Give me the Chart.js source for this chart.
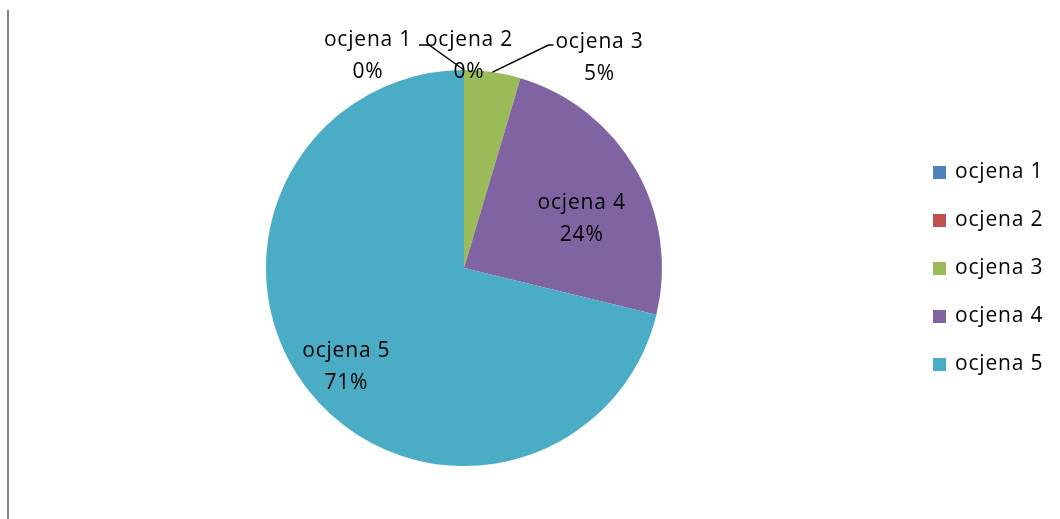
<!DOCTYPE html>
<html>
<head>
<meta charset="utf-8">
<script src="https://cdn.jsdelivr.net/npm/chart.js@4"></script>
<style>
  html, body { margin: 0; padding: 0; background: #fff; }
  #wrap { width: 1060px; height: 519px; }
</style>
</head>
<body>
<div id="wrap"><canvas id="myChart" width="1060" height="519"></canvas></div>
<script>
var categories = ["ocjena 1", "ocjena 2", "ocjena 3", "ocjena 4", "ocjena 5"]
var shares = [0, 0, 4.6, 24.2, 71.2]
var sliceColors = ["#4F81BD", "#C0504D", "#9BBB59", "#8064A2", "#4BACC6"]

// label offsets from the slice's outer mid point
var labelOffsets = [[-96, -14], [5, -14], [107, -14], [-54, 50], [38, -23]]
// leader lines: [elbow, end] relative to outer mid point
var leaders = [[[-35, -25], [-45, -25]], null, [[56, -27], [61, -27]], null, null]

var FONT = "21px 'Open Sans'"

var extras = {
  id: "extras",
  beforeDraw: function(chart) {
    var ctx = chart.ctx
    ctx.save()
    ctx.strokeStyle = "#868686"
    ctx.lineWidth = 2
    ctx.beginPath()
    ctx.moveTo(8, 10)
    ctx.lineTo(8, 519)
    ctx.stroke()
    ctx.restore()
  },
  afterDraw: function(chart) {
    var ctx = chart.ctx
    var arcs = chart.getDatasetMeta(0).data
    var total = shares.reduce(function(a, b) { return a + b }, 0)
    ctx.save()
    ctx.font = FONT
    ctx.letterSpacing = "0.8px"
    ctx.textAlign = "center"
    ctx.textBaseline = "middle"
    arcs.forEach(function(arc, i) {
      var p = arc.getProps(["x", "y", "startAngle", "endAngle", "outerRadius"], true)
      var mid = (p.startAngle + p.endAngle) / 2
      var ax = p.x + Math.cos(mid) * p.outerRadius
      var ay = p.y + Math.sin(mid) * p.outerRadius
      if (leaders[i]) {
        ctx.strokeStyle = "#000"
        ctx.lineWidth = 1.5
        ctx.beginPath()
        ctx.moveTo(ax, ay)
        ctx.lineTo(ax + leaders[i][0][0], ay + leaders[i][0][1])
        ctx.lineTo(ax + leaders[i][1][0], ay + leaders[i][1][1])
        ctx.stroke()
      }
      var lx = ax + labelOffsets[i][0]
      var ly = ay + labelOffsets[i][1]
      ctx.fillStyle = "#000"
      ctx.fillText(categories[i], lx, ly - 16)
      ctx.fillText(Math.round(shares[i] / total * 100) + "%", lx, ly + 16)
    })
    // legend
    ctx.textAlign = "left"
    categories.forEach(function(c, i) {
      var y = 172 + i * 48
      ctx.fillStyle = sliceColors[i]
      ctx.fillRect(933, y - 6, 13, 13)
      ctx.fillStyle = "#000"
      ctx.fillText(c, 955, y)
    })
    ctx.restore()
  }
}

new Chart("myChart", {
  type: "pie",
  data: {
    labels: categories,
    datasets: [{
      data: shares,
      backgroundColor: sliceColors,
      borderWidth: 0
    }]
  },
  options: {
    responsive: false,
    animation: false,
    layout: { padding: { left: 265, right: 397, top: 70, bottom: 53 } },
    plugins: {
      legend: { display: false },
      tooltip: { enabled: false }
    }
  },
  plugins: [extras]
});
</script>
</body>
</html>
